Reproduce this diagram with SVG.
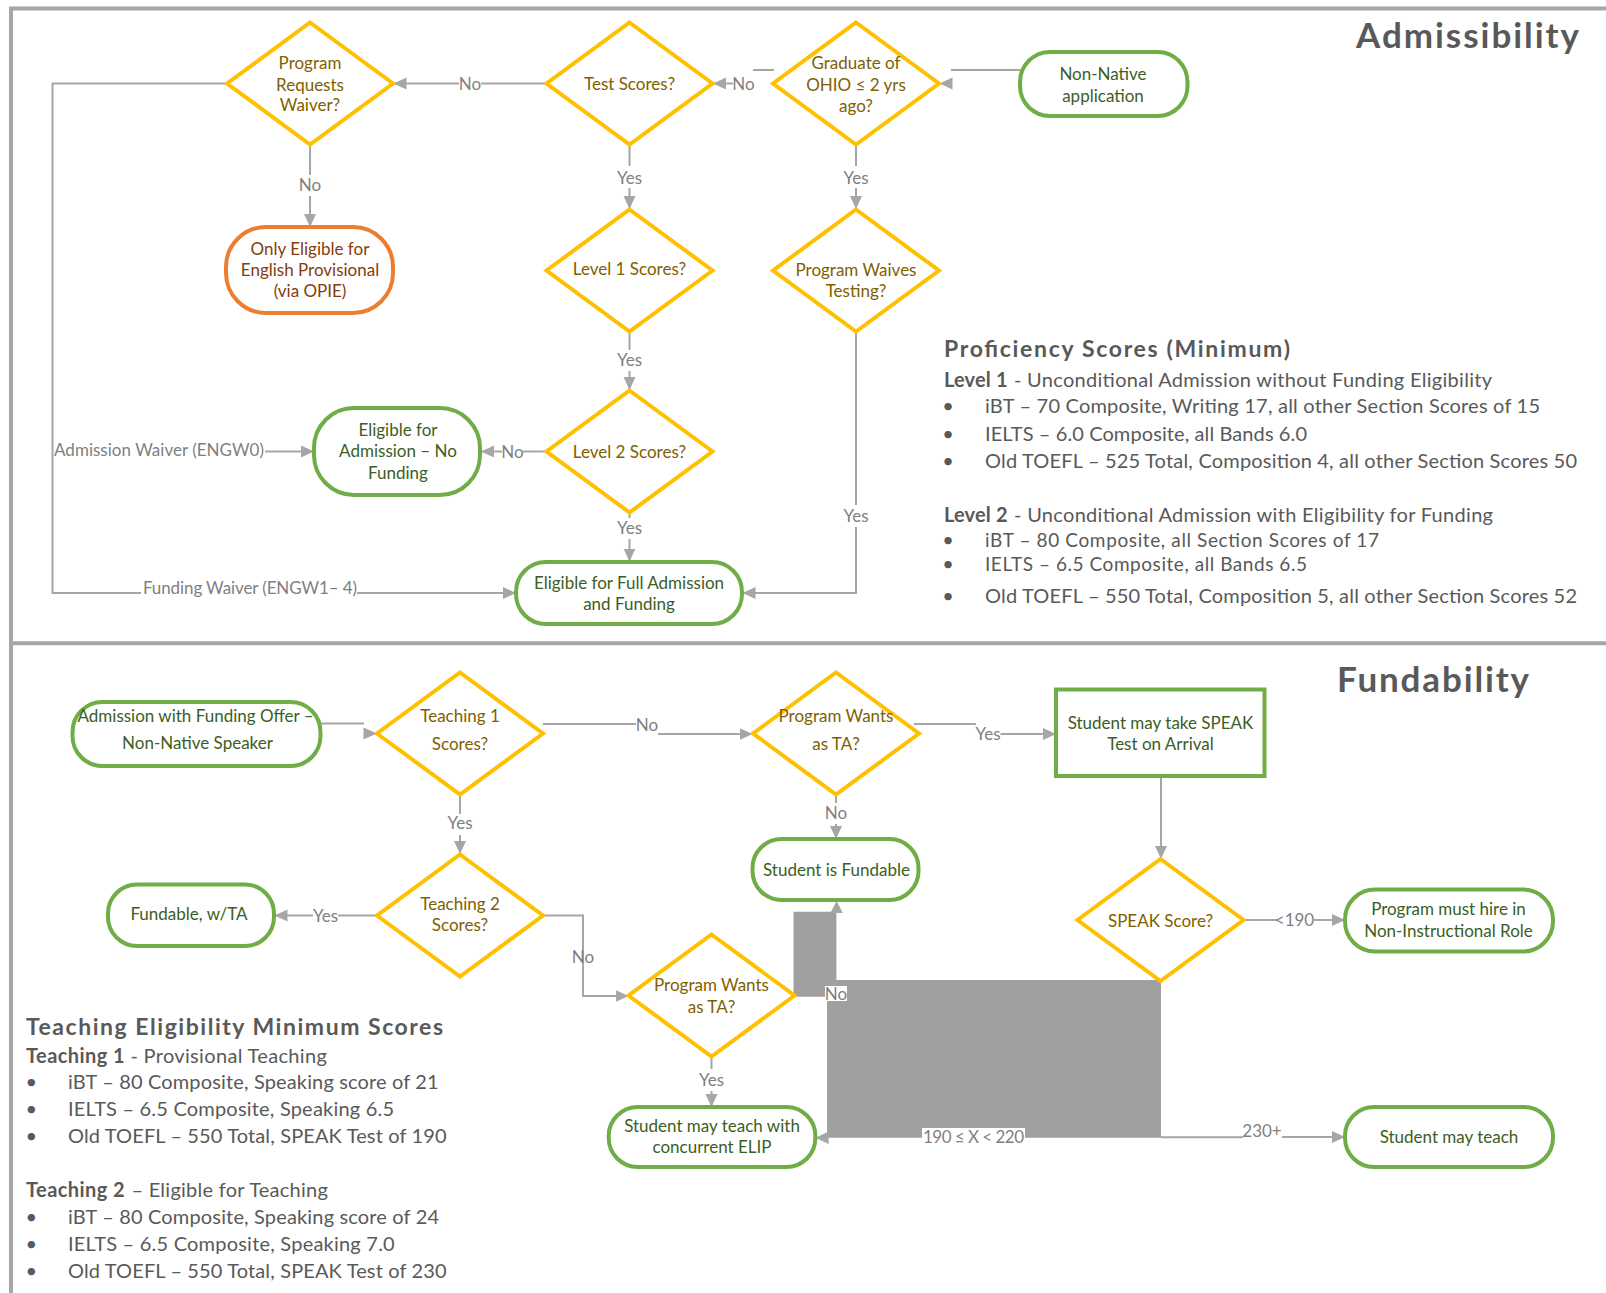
<svg xmlns="http://www.w3.org/2000/svg" width="1606" height="1293" viewBox="0 0 1606 1293">
<style>
text{font-family:Lato,"Open Sans","Liberation Sans",sans-serif}
.dia{fill:#fff;stroke:#FFC000;stroke-width:4;stroke-linejoin:miter}
.gn{fill:#fff;stroke:#70AD47;stroke-width:4}
.on{fill:#fff;stroke:#ED7D31;stroke-width:4}
.dt{fill:#7F6000;font-size:17px;text-anchor:middle;dominant-baseline:central}
.gt{fill:#3B5E24;font-size:17px;text-anchor:middle;dominant-baseline:central}
.ot{fill:#843C0C;font-size:17px;text-anchor:middle;dominant-baseline:central}
.lbl{fill:#7F7F7F;font-size:17px;text-anchor:middle;dominant-baseline:central}
.lbs{fill:#7F7F7F;font-size:17px;dominant-baseline:central}
.c{fill:none;stroke:#A6A6A6;stroke-width:2}
.ah{fill:#A6A6A6}
.frame{stroke:#A6A6A6;stroke-width:4;fill:none}
.leg{fill:#595959;font-size:20px}
.legs{fill:#595959;font-size:19px}
.legb{fill:#595959;font-size:20px;font-weight:bold}
.legh{fill:#595959;font-size:23px;font-weight:bold}
.bul{fill:#595959;font-size:20px;text-anchor:middle}
.title{fill:#595959;font-size:35px;font-weight:bold}
</style>
<defs>
<marker id="arr" markerUnits="userSpaceOnUse" markerWidth="14" markerHeight="14" refX="13" refY="6.5" orient="auto">
<path d="M0,0.5 L13,6.5 L0,12.5 z" fill="#A6A6A6"/>
</marker>
</defs>
<rect x="0" y="0" width="1606" height="1293" fill="#fff"/>
<g id="frame">
<path class="frame" d="M1606,8.5 H11 V1293"/>
<path class="frame" d="M9,643.3 H1606"/>
</g>

<g id="connectors">
<path class="c" d="M1020,70 H951"/>
<polygon class="ah" points="939.5,83.5 952.5,77.5 952.5,89.5"/>
<path class="c" d="M774,70 H753"/>
<path class="c" d="M733,83.5 H713" marker-end="url(#arr)"/>
<text class="lbl" x="743.5" y="83.5">No</text>
<path class="c" d="M546,83.5 H481"/>
<path class="c" d="M459,83.5 H393.5" marker-end="url(#arr)"/>
<text class="lbl" x="470" y="83.5">No</text>
<path class="c" d="M310,145 V175"/>
<text class="lbl" x="310" y="184">No</text>
<path class="c" d="M310,196 V227" marker-end="url(#arr)"/>
<path class="c" d="M227,83.5 H52.5 V593 H141"/>
<text class="lbs" x="143" y="587" textLength="214">Funding Waiver (ENGW1– 4)</text>
<path class="c" d="M357,593 H516" marker-end="url(#arr)"/>
<text class="lbs" x="54" y="449" textLength="210">Admission Waiver (ENGW0)</text>
<path class="c" d="M265,451.5 H314" marker-end="url(#arr)"/>
<path class="c" d="M546,451.5 H523"/>
<text class="lbl" x="512.5" y="451">No</text>
<path class="c" d="M502,451.5 H481" marker-end="url(#arr)"/>
<path class="c" d="M629.5,145 V166"/>
<text class="lbl" x="629.5" y="177">Yes</text>
<path class="c" d="M629.5,188 V209" marker-end="url(#arr)"/>
<path class="c" d="M856,145 V166"/>
<text class="lbl" x="856" y="177">Yes</text>
<path class="c" d="M856,188 V209" marker-end="url(#arr)"/>
<path class="c" d="M629.5,332 V350"/>
<text class="lbl" x="629.5" y="359.5">Yes</text>
<path class="c" d="M629.5,371 V390" marker-end="url(#arr)"/>
<path class="c" d="M629.5,513 V518"/>
<text class="lbl" x="629.5" y="527.5">Yes</text>
<path class="c" d="M629.5,539 V561.5" marker-end="url(#arr)"/>
<path class="c" d="M856,332 V505"/>
<text class="lbl" x="856" y="515">Yes</text>
<path class="c" d="M856,527 V593 H742.5" marker-end="url(#arr)"/>

<path class="c" d="M318,723.5 H364"/>
<polygon class="ah" points="377,733.5 363.5,727.5 363.5,739.5"/>
<path class="c" d="M543,724 H636"/>
<text class="lbl" x="647" y="724">No</text>
<path class="c" d="M658,734 H752.5" marker-end="url(#arr)"/>
<path class="c" d="M914,724 H976"/>
<text class="lbl" x="988" y="733">Yes</text>
<path class="c" d="M1000.5,734 H1056" marker-end="url(#arr)"/>
<path class="c" d="M836,795 V803"/>
<text class="lbl" x="836" y="812.5">No</text>
<path class="c" d="M836,824 V839" marker-end="url(#arr)"/>
<path class="c" d="M460,795 V814"/>
<text class="lbl" x="460" y="822.5">Yes</text>
<path class="c" d="M460,835 V854" marker-end="url(#arr)"/>
<path class="c" d="M377,915.5 H338"/>
<text class="lbl" x="325.5" y="915.5">Yes</text>
<path class="c" d="M313,915.5 H274.5" marker-end="url(#arr)"/>
<path class="c" d="M543,915.5 H583 V996 H628.5" marker-end="url(#arr)"/>
<text class="lbl" x="583" y="956.5">No</text>
<path class="c" d="M711.5,1057 V1069"/>
<text class="lbl" x="711.5" y="1079.5">Yes</text>
<path class="c" d="M711.5,1091 V1107" marker-end="url(#arr)"/>
<path class="c" d="M1161,776 V859" marker-end="url(#arr)"/>
<path class="c" d="M1244,920 H1277"/>
<text class="lbl" x="1294.5" y="919">&lt;190</text>
<path class="c" d="M1312,920 H1345" marker-end="url(#arr)"/>
<path d="M793.5,911.7 H836.4 V980 H1161 V1137.7 H827 V996.7 H793.5 Z" fill="#A0A0A0"/>
<polygon class="ah" points="836.6,901 830.4,913 842.8,913"/>
<polygon class="ah" points="815.6,1137.7 828.6,1131.5 828.6,1143.9"/>
<rect x="825" y="986" width="22" height="15" fill="#fff"/>
<text class="lbl" x="836" y="993.5">No</text>
<rect x="922" y="1128" width="103" height="17" fill="#fff"/>
<text class="lbs" x="923" y="1136.7" textLength="101">190 ≤ X &lt; 220</text>
<path class="c" d="M1161,1137.3 H1243"/>
<text class="lbl" x="1262" y="1130">230+</text>
<path class="c" d="M1282,1137 H1345" marker-end="url(#arr)"/>
</g>

<g id="n-nonnative">
<rect class="gn" x="1020" y="52" width="167.5" height="64" rx="30"/>
<text class="gt"><tspan x="1103" y="73">Non-Native</tspan><tspan x="1103" y="94.5">application</tspan></text>
</g>
<g id="n-graduate">
<polygon class="dia" points="856,22.5 939,83.5 856,144.5 773,83.5"/>
<text class="dt"><tspan x="856" y="62">Graduate of</tspan><tspan x="856" y="83.5">OHIO ≤ 2 yrs</tspan><tspan x="856" y="105">ago?</tspan></text>
</g>
<g id="n-test">
<polygon class="dia" points="629.5,22.5 712.5,83.5 629.5,144.5 546.5,83.5"/>
<text class="dt" x="629.5" y="83.5">Test Scores?</text>
</g>
<g id="n-prw">
<polygon class="dia" points="310,22.5 393,83.5 310,144.5 227,83.5"/>
<text class="dt"><tspan x="310" y="62">Program</tspan><tspan x="310" y="83.5">Requests</tspan><tspan x="310" y="104">Waiver?</tspan></text>
</g>
<g id="n-opie">
<rect class="on" x="226" y="227" width="167" height="86" rx="40"/>
<text class="ot"><tspan x="310" y="247.5">Only Eligible for</tspan><tspan x="310" y="268.5">English Provisional</tspan><tspan x="310" y="289.5">(via OPIE)</tspan></text>
</g>
<g id="n-level1">
<polygon class="dia" points="629.5,209.5 712.5,270.5 629.5,331.5 546.5,270.5"/>
<text class="dt" x="629.5" y="268.5">Level 1 Scores?</text>
</g>
<g id="n-waives">
<polygon class="dia" points="856,209.5 939,270.5 856,331.5 773,270.5"/>
<text class="dt"><tspan x="856" y="268.5">Program Waives</tspan><tspan x="856" y="290">Testing?</tspan></text>
</g>
<g id="n-level2">
<polygon class="dia" points="629.5,390.5 712.5,451.5 629.5,512.5 546.5,451.5"/>
<text class="dt" x="629.5" y="451">Level 2 Scores?</text>
</g>
<g id="n-nofund">
<rect class="gn" x="314" y="408" width="166" height="87" rx="40"/>
<text class="gt"><tspan x="398" y="428.5">Eligible for</tspan><tspan x="398" y="449.5">Admission – No</tspan><tspan x="398" y="471.5">Funding</tspan></text>
</g>
<g id="n-full">
<rect class="gn" x="516" y="562" width="226" height="62" rx="30"/>
<text class="gt"><tspan x="629" y="581.5">Eligible for Full Admission</tspan><tspan x="629" y="603">and Funding</tspan></text>
</g>
<g id="title-adm">
<text class="title" x="1356" y="48" textLength="223">Admissibility</text>
</g>
<g id="legend-proficiency">
<text class="legh" x="944" y="357" textLength="346">Proficiency Scores (Minimum)</text>
<text class="legb" x="944" y="386.5" textLength="63.5">Level 1</text>
<text class="leg" x="1014" y="386.5" textLength="478">- Unconditional Admission without Funding Eligibility</text>
<text class="bul" x="948" y="413">•</text>
<text class="leg" x="985" y="413" textLength="555">iBT – 70 Composite, Writing 17, all other Section Scores of 15</text>
<text class="bul" x="948" y="440.5">•</text>
<text class="leg" x="985" y="440.5" textLength="322">IELTS – 6.0 Composite, all Bands 6.0</text>
<text class="bul" x="948" y="468">•</text>
<text class="leg" x="985" y="468" textLength="592">Old TOEFL – 525 Total, Composition 4, all other Section Scores 50</text>
<text class="legb" x="944" y="521.5" textLength="63.5">Level 2</text>
<text class="leg" x="1014" y="521.5" textLength="479">- Unconditional Admission with Eligibility for Funding</text>
<text class="bul" x="948" y="547">•</text>
<text class="legs" x="985" y="547" textLength="394">iBT – 80 Composite, all Section Scores of 17</text>
<text class="bul" x="948" y="571">•</text>
<text class="legs" x="985" y="571" textLength="322">IELTS – 6.5 Composite, all Bands 6.5</text>
<text class="bul" x="948" y="603">•</text>
<text class="leg" x="985" y="603" textLength="592">Old TOEFL – 550 Total, Composition 5, all other Section Scores 52</text>
</g>

<g id="n-admfund">
<rect class="gn" x="72.5" y="702" width="248" height="64" rx="30"/>
<text class="gt"><tspan x="195.5" y="715">Admission with Funding Offer –</tspan><tspan x="197.5" y="742">Non-Native Speaker</tspan></text>
</g>
<g id="n-teach1">
<polygon class="dia" points="460,672.5 543,733.5 460,794.5 377,733.5"/>
<text class="dt"><tspan x="460" y="715">Teaching 1</tspan><tspan x="460" y="742.5">Scores?</tspan></text>
</g>
<g id="n-wants1">
<polygon class="dia" points="836,672.5 919,733.5 836,794.5 753,733.5"/>
<text class="dt"><tspan x="836" y="715">Program Wants</tspan><tspan x="836" y="742.5">as TA?</tspan></text>
</g>
<g id="n-speakbox">
<rect class="gn" x="1056" y="689.5" width="208.5" height="86.5"/>
<text class="gt"><tspan x="1160.5" y="721.5">Student may take SPEAK</tspan><tspan x="1160.5" y="742.5">Test on Arrival</tspan></text>
</g>
<g id="n-fundable">
<rect class="gn" x="752.5" y="839" width="166" height="61" rx="29"/>
<text class="gt" x="836.5" y="869">Student is Fundable</text>
</g>
<g id="n-teach2">
<polygon class="dia" points="460,854.5 543,915.5 460,976.5 377,915.5"/>
<text class="dt"><tspan x="460" y="902.5">Teaching 2</tspan><tspan x="460" y="924">Scores?</tspan></text>
</g>
<g id="n-fundta">
<rect class="gn" x="108" y="884.5" width="166" height="61.5" rx="29"/>
<text class="gt" x="189" y="913.5">Fundable, w/TA</text>
</g>
<g id="n-speak">
<polygon class="dia" points="1160.5,859 1243.5,920 1160.5,981 1077.5,920"/>
<text class="dt" x="1160.5" y="920">SPEAK Score?</text>
</g>
<g id="n-hire">
<rect class="gn" x="1345" y="889.5" width="208" height="62" rx="30"/>
<text class="gt"><tspan x="1448.5" y="907.5">Program must hire in</tspan><tspan x="1448.5" y="929.5">Non-Instructional  Role</tspan></text>
</g>
<g id="n-wants2">
<polygon class="dia" points="711.5,934.5 794.5,995.5 711.5,1056.5 628.5,995.5"/>
<text class="dt"><tspan x="711.5" y="983.5">Program Wants</tspan><tspan x="711.5" y="1005.5">as TA?</tspan></text>
</g>
<g id="n-elip">
<rect class="gn" x="608.7" y="1107" width="206.7" height="60" rx="29"/>
<text class="gt"><tspan x="712" y="1125">Student may teach with</tspan><tspan x="712" y="1146">concurrent ELIP</tspan></text>
</g>
<g id="n-teach">
<rect class="gn" x="1345" y="1107" width="208" height="60" rx="29"/>
<text class="gt" x="1449" y="1136">Student may teach</text>
</g>
<g id="title-fund">
<text class="title" x="1337" y="691.7" textLength="192">Fundability</text>
</g>
<g id="legend-teaching">
<text class="legh" x="26" y="1035" textLength="417">Teaching Eligibility Minimum Scores</text>
<text class="legb" x="26" y="1062.7" textLength="98.6">Teaching 1</text>
<text class="leg" x="130.4" y="1062.7" textLength="196.4">- Provisional Teaching</text>
<text class="bul" x="31.4" y="1089.3">•</text>
<text class="leg" x="68" y="1089.3" textLength="370.7">iBT – 80 Composite, Speaking score of 21</text>
<text class="bul" x="31.4" y="1116">•</text>
<text class="leg" x="68" y="1116" textLength="326">IELTS – 6.5 Composite, Speaking  6.5</text>
<text class="bul" x="31.4" y="1143.3">•</text>
<text class="leg" x="68" y="1143.3" textLength="378.5">Old TOEFL – 550 Total, SPEAK Test of 190</text>
<text class="legb" x="26" y="1197.3" textLength="98.6">Teaching 2</text>
<text class="leg" x="131.4" y="1197.3" textLength="196.5">– Eligible for Teaching</text>
<text class="bul" x="31.4" y="1224.3">•</text>
<text class="leg" x="68" y="1224.3" textLength="371">iBT – 80 Composite, Speaking score of 24</text>
<text class="bul" x="31.4" y="1251">•</text>
<text class="leg" x="68" y="1251" textLength="326.7">IELTS – 6.5 Composite, Speaking  7.0</text>
<text class="bul" x="31.4" y="1278.3">•</text>
<text class="leg" x="68" y="1278.3" textLength="378.5">Old TOEFL – 550 Total, SPEAK Test of 230</text>
</g>
</svg>
